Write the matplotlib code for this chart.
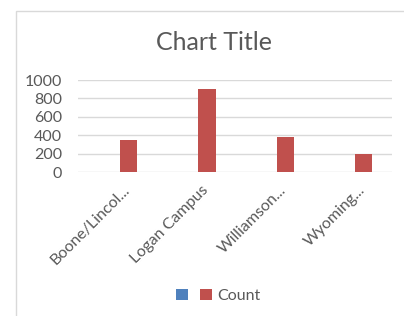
import matplotlib
matplotlib.use("Agg")
import matplotlib.pyplot as plt
import matplotlib.transforms as mtransforms
from matplotlib.patches import Rectangle, Patch
import numpy as np

categories = ["Boone/Lincol...", "Logan Campus", "Williamson...", "Wyoming..."]
series_blue = [0, 0, 0, 0]
series_count = [348, 902, 377, 192]
yticks = [0, 200, 400, 600, 800, 1000]
title = "Chart Title"
legend_labels = ["", "Count"]

BLUE = "#4F81BD"
RED = "#C0504D"
TXT = "#595959"
GRID = "#D9D9D9"

plt.rcParams['font.family'] = ['Lato', 'DejaVu Sans']

W, H = 404, 316
fig = plt.figure(figsize=(W / 100, H / 100), dpi=100)

# chart area border (left and top edges visible)
fig.add_artist(Rectangle((16 / W, -0.1), 1.2, 1 - 10.5 / H + 0.1, transform=fig.transFigure,
                         fill=False, edgecolor=GRID, lw=1.0))

ax = fig.add_axes([78.3 / W, 1 - 172 / H, (391.7 - 78.3) / W, (172 - 80) / H])
x = np.arange(len(categories))
bw = 0.22
off = 0.143
ax.bar(x + off - bw, series_blue, width=bw, color=BLUE, linewidth=0)
ax.bar(x + off, series_count, width=bw, color=RED, linewidth=0)

ax.set_xlim(-0.5, len(categories) - 0.5)
ax.set_ylim(0, 1000)
ax.set_yticks(yticks)
ax.set_yticklabels([str(v) for v in yticks])
for s in ax.spines.values():
    s.set_visible(False)
ax.set_axisbelow(True)
ax.yaxis.grid(True, color=GRID, lw=1.0)
ax.tick_params(axis='y', length=0, pad=11.5, labelsize=11.5, labelcolor=TXT)
ax.tick_params(axis='x', length=0, pad=0, labelsize=11.5, labelcolor=TXT)
ax.set_xticks(x)
ax.set_xticklabels(categories, rotation=45, ha='right', va='top', rotation_mode='anchor')
shift = mtransforms.ScaledTranslation(5 / 100, -11 / 100, fig.dpi_scale_trans)
for lab in ax.get_xticklabels():
    lab.set_transform(lab.get_transform() + shift)

fig.text(214 / W, 1 - 42 / H, title, ha='center', va='center', fontsize=18, color=TXT)

handles = [Patch(facecolor=BLUE, edgecolor='none'), Patch(facecolor=RED, edgecolor='none')]
fig.legend(handles, legend_labels, loc='center', bbox_to_anchor=(218 / W, 1 - 296 / H),
           ncol=2, frameon=False, fontsize=11.5, labelcolor=TXT,
           handlelength=0.75, handleheight=0.75, handletextpad=0.3, columnspacing=0.5,
           borderpad=0, borderaxespad=0)

fig.savefig("out.png", dpi=100)
